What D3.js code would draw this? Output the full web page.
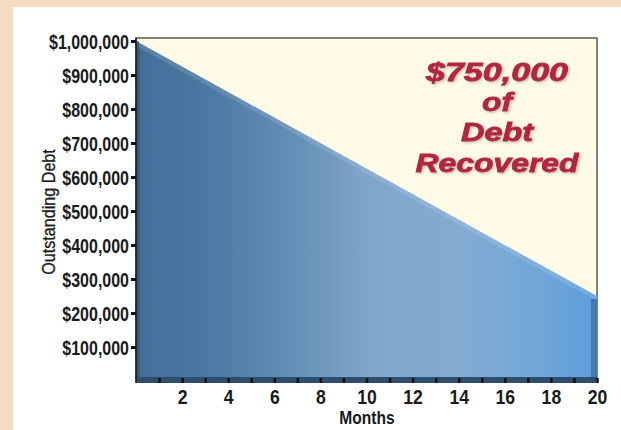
<!DOCTYPE html>
<html>
<head>
<meta charset="utf-8">
<script src="https://cdn.jsdelivr.net/npm/d3@7"></script>
<style>
  body { margin: 0; background: #f3dcbf; }
  svg { display: block; }
</style>
</head>
<body>
<div class="wrapper"></div>
<script>
// chart values
const months = [0, 20];
const debt = [1000000, 250000];
const yTicks = [100000, 200000, 300000, 400000, 500000, 600000, 700000, 800000, 900000, 1000000];
const xTicks = [2, 4, 6, 8, 10, 12, 14, 16, 18, 20];
const noteLines = ["$750,000", "of", "Debt", "Recovered"];

const width = 621, height = 430;
const plotLeft = 136, plotRight = 597, plotTop = 38, plotBottom = 381;
const font = "'Liberation Sans', Arial, sans-serif";

const svg = d3.select(".wrapper").append("svg")
  .attr("width", width)
  .attr("height", height);

// white card
svg.append("rect").attr("x", 13).attr("y", 7).attr("width", width - 13).attr("height", height - 7).attr("fill", "#ffffff");

const x = d3.scaleLinear().domain([0, 20]).range([plotLeft, plotRight]);
const y = d3.scaleLinear().domain([0, 1000000]).range([plotBottom, 41]);

const data = months.map((m, i) => ({ m: m, v: debt[i] }));

const defs = svg.append("defs");
const grad = defs.append("linearGradient").attr("id", "fillgrad")
  .attr("x1", "0%").attr("x2", "100%").attr("y1", "0%").attr("y2", "0%");
[["0%", "#345c86"], ["1.5%", "#44709a"], ["15%", "#4a78a2"], ["32%", "#628cb5"],
 ["50%", "#7fa5ca"], ["70%", "#83abd2"], ["88%", "#70a6d8"], ["100%", "#5e9edb"]]
  .forEach(s => grad.append("stop").attr("offset", s[0]).attr("stop-color", s[1]));

const shadow = defs.append("filter").attr("id", "txtshadow").attr("x", "-10%").attr("y", "-10%").attr("width", "130%").attr("height", "140%");
shadow.append("feDropShadow").attr("dx", 1.5).attr("dy", 1.5).attr("stdDeviation", 1)
  .attr("flood-color", "#7a6a60").attr("flood-opacity", 0.4);

// plot background
svg.append("rect")
  .attr("x", plotLeft).attr("y", plotTop)
  .attr("width", plotRight - plotLeft).attr("height", plotBottom - plotTop)
  .attr("fill", "#fffbe7")
  .attr("stroke", "#5a5a5a").attr("stroke-width", 1.5);

// debt area
const area = d3.area().x(d => x(d.m)).y0(plotBottom).y1(d => y(d.v));
svg.append("path").datum(data).attr("d", area).attr("fill", "url(#fillgrad)");

// light top face along the line
const band = d3.area().x(d => x(d.m)).y0(d => y(d.v) + 5).y1(d => y(d.v));
svg.append("path").datum(data).attr("d", band).attr("fill", "#ffffff").attr("opacity", 0.12);

// right face
const last = data[data.length - 1];
svg.append("rect")
  .attr("x", x(last.m) - 6).attr("y", y(last.v) + 3)
  .attr("width", 6).attr("height", plotBottom - y(last.v) - 3)
  .attr("fill", "#3f6f9f").attr("opacity", 0.75);

// left edge shade
svg.append("rect")
  .attr("x", plotLeft).attr("y", y(data[0].v))
  .attr("width", 3).attr("height", plotBottom - y(data[0].v))
  .attr("fill", "#2d4f74").attr("opacity", 0.6);

// bottom face
svg.append("rect")
  .attr("x", plotLeft).attr("y", plotBottom - 4)
  .attr("width", plotRight - plotLeft).attr("height", 6)
  .attr("fill", "#2f4e6e");

// y axis line
svg.append("line").attr("x1", plotLeft).attr("x2", plotLeft).attr("y1", plotTop).attr("y2", plotBottom + 2)
  .attr("stroke", "#1a1a1a").attr("stroke-width", 1.5);

// y axis ticks + labels (condensed)
const yAxis = d3.axisLeft(y).tickValues(yTicks).tickSize(5).tickPadding(4)
  .tickFormat(d => "$" + d3.format(",")(d));
const gy = svg.append("g").attr("transform", "translate(" + plotLeft + ",0)").call(yAxis);
gy.select(".domain").remove();
gy.selectAll(".tick line").attr("stroke", "#111").attr("stroke-width", 3);
gy.selectAll(".tick text")
  .attr("fill", "#1a1a1a")
  .attr("transform", "scale(0.78,1)")
  .style("font-family", font)
  .style("font-size", "20.5px")
  .style("font-weight", "bold")
  .attr("dy", "0.36em");

// x axis: month marks on the bottom face
const gx = svg.append("g").attr("transform", "translate(0," + (plotBottom + 2) + ")")
  .call(d3.axisBottom(x).tickValues(d3.range(1, 21)).tickSize(5).tickFormat(""));
gx.select(".domain").remove();
gx.selectAll(".tick line").attr("stroke", "#111").attr("stroke-width", 2.5).attr("y1", -5).attr("y2", 0);

const gx2 = svg.append("g").attr("transform", "translate(0," + (plotBottom + 2) + ")")
  .call(d3.axisBottom(x).tickValues(xTicks).tickSize(0).tickPadding(6));
gx2.select(".domain").remove();
gx2.selectAll(".tick text")
  .attr("fill", "#1a1a1a")
  .attr("transform", "scale(0.86,1)")
  .style("font-family", font)
  .style("font-size", "20.5px")
  .style("font-weight", "bold");

// axis titles
svg.append("text")
  .attr("transform", "translate(367,424) scale(0.82,1)")
  .attr("text-anchor", "middle")
  .style("font-family", font)
  .style("font-size", "19px").style("font-weight", "bold")
  .attr("fill", "#1a1a1a")
  .text("Months");

svg.append("text")
  .attr("transform", "translate(55,212) rotate(-90) scale(0.85,1)")
  .attr("text-anchor", "middle")
  .style("font-family", font)
  .style("font-size", "19px")
  .attr("fill", "#1a1a1a")
  .attr("stroke", "#1a1a1a")
  .attr("stroke-width", 0.3)
  .text("Outstanding Debt");

// annotation
const note = svg.append("g").attr("filter", "url(#txtshadow)");
const noteY = [81, 111, 141, 172];
const noteW = [142, 30, 72, 163];
note.selectAll("text")
  .data(noteLines)
  .enter()
  .append("text")
  .attr("x", 497)
  .attr("y", (d, i) => noteY[i])
  .attr("text-anchor", "middle")
  .attr("textLength", (d, i) => noteW[i])
  .attr("lengthAdjust", "spacingAndGlyphs")
  .style("font-family", font)
  .style("font-size", "26.5px")
  .style("font-weight", "bold")
  .style("font-style", "italic")
  .attr("fill", "#b32540")
  .attr("stroke", "#b32540")
  .attr("stroke-width", 0.8)
  .text(d => d);
</script>
</body>
</html>
